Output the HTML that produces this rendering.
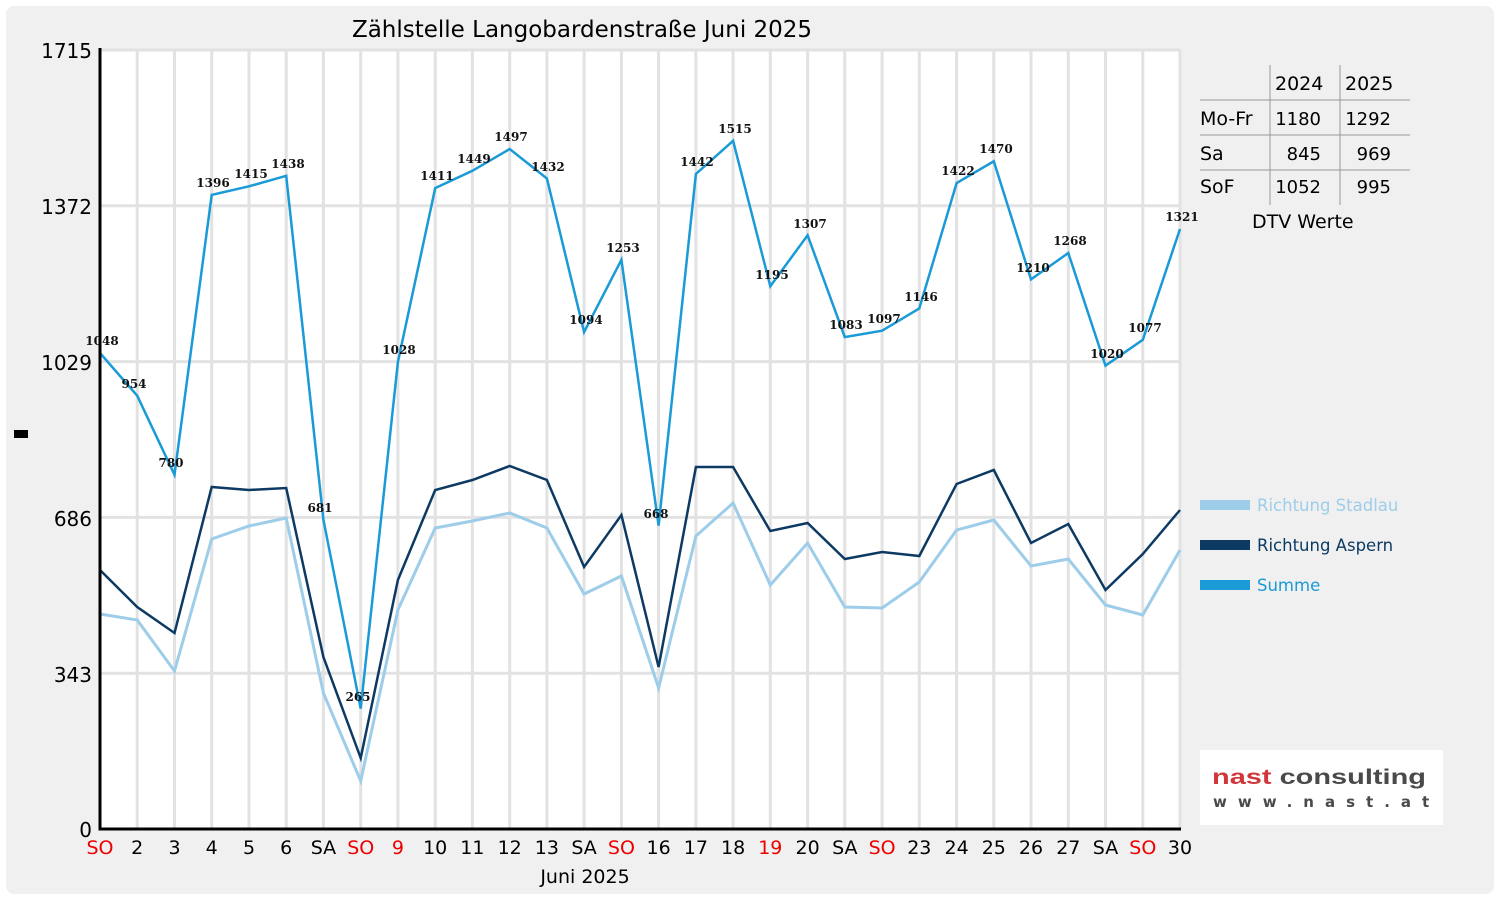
<!DOCTYPE html>
<html><head><meta charset="utf-8"><style>
body{margin:0;background:#fff;}
svg{display:block;font-family:"DejaVu Sans","Liberation Sans",sans-serif;}
</style></head><body>
<svg width="1500" height="900" viewBox="0 0 1500 900" xmlns="http://www.w3.org/2000/svg">
<rect x="6" y="6" width="1488" height="888" rx="8" fill="#f0f0f0"/>
<rect x="100" y="50" width="1080" height="779" fill="#fff"/>
<g stroke="#e2e2e2" stroke-width="3">
<line x1="100" y1="50" x2="1180" y2="50"/><line x1="100" y1="205.8" x2="1180" y2="205.8"/><line x1="100" y1="361.6" x2="1180" y2="361.6"/><line x1="100" y1="517.4" x2="1180" y2="517.4"/><line x1="100" y1="673.2" x2="1180" y2="673.2"/>
<line x1="137.2" y1="50" x2="137.2" y2="829"/><line x1="174.5" y1="50" x2="174.5" y2="829"/><line x1="211.7" y1="50" x2="211.7" y2="829"/><line x1="249" y1="50" x2="249" y2="829"/><line x1="286.2" y1="50" x2="286.2" y2="829"/><line x1="323.4" y1="50" x2="323.4" y2="829"/><line x1="360.7" y1="50" x2="360.7" y2="829"/><line x1="397.9" y1="50" x2="397.9" y2="829"/><line x1="435.2" y1="50" x2="435.2" y2="829"/><line x1="472.4" y1="50" x2="472.4" y2="829"/><line x1="509.7" y1="50" x2="509.7" y2="829"/><line x1="546.9" y1="50" x2="546.9" y2="829"/><line x1="584.1" y1="50" x2="584.1" y2="829"/><line x1="621.4" y1="50" x2="621.4" y2="829"/><line x1="658.6" y1="50" x2="658.6" y2="829"/><line x1="695.9" y1="50" x2="695.9" y2="829"/><line x1="733.1" y1="50" x2="733.1" y2="829"/><line x1="770.3" y1="50" x2="770.3" y2="829"/><line x1="807.6" y1="50" x2="807.6" y2="829"/><line x1="844.8" y1="50" x2="844.8" y2="829"/><line x1="882.1" y1="50" x2="882.1" y2="829"/><line x1="919.3" y1="50" x2="919.3" y2="829"/><line x1="956.6" y1="50" x2="956.6" y2="829"/><line x1="993.8" y1="50" x2="993.8" y2="829"/><line x1="1031" y1="50" x2="1031" y2="829"/><line x1="1068.3" y1="50" x2="1068.3" y2="829"/><line x1="1105.5" y1="50" x2="1105.5" y2="829"/><line x1="1142.8" y1="50" x2="1142.8" y2="829"/><line x1="1180" y1="50" x2="1180" y2="829"/>
</g>
<polyline fill="none" stroke="#9dcde9" stroke-width="3" points="100,614 137.2,620 174.5,671 211.7,539 249,526 286.2,518 323.4,693 360.7,781 397.9,610 435.2,528 472.4,521 509.7,513 546.9,528 584.1,594 621.4,576 658.6,688 695.9,536 733.1,503 770.3,585 807.6,543 844.8,607 882.1,608 919.3,582 956.6,530 993.8,520 1031,566 1068.3,559 1105.5,605 1142.8,615 1180,550"/>
<polyline fill="none" stroke="#0d3a63" stroke-width="2.5" points="100,570 137.2,607 174.5,633 211.7,487 249,490 286.2,488 323.4,657 360.7,758 397.9,580 435.2,490 472.4,480 509.7,466 546.9,480 584.1,567 621.4,515 658.6,667 695.9,467 733.1,467 770.3,531 807.6,523 844.8,559 882.1,552 919.3,556 956.6,484 993.8,470 1031,543 1068.3,524 1105.5,590 1142.8,554 1180,510"/>
<polyline fill="none" stroke="#1a9ad6" stroke-width="2.5" points="100,353 137.2,395.7 174.5,474.7 211.7,194.9 249,186.3 286.2,175.8 323.4,519.7 360.7,708.6 397.9,362 435.2,188.1 472.4,170.8 509.7,149 546.9,178.5 584.1,332.1 621.4,259.8 658.6,525.6 695.9,174 733.1,140.8 770.3,286.2 807.6,235.3 844.8,337.1 882.1,330.7 919.3,308.4 956.6,183.1 993.8,161.3 1031,279.4 1068.3,253 1105.5,365.7 1142.8,339.8 1180,229"/>
<g font-size="12" font-weight="bold" fill="#111" text-anchor="middle" font-family="'DejaVu Serif',serif">
<text x="102" y="345">1048</text><text x="134" y="388">954</text><text x="171" y="467">780</text><text x="213" y="187">1396</text><text x="251" y="178">1415</text><text x="288" y="168">1438</text><text x="320" y="512">681</text><text x="358" y="701">265</text><text x="399" y="354">1028</text><text x="437" y="180">1411</text><text x="474" y="163">1449</text><text x="511" y="141">1497</text><text x="548" y="171">1432</text><text x="586" y="324">1094</text><text x="623" y="252">1253</text><text x="656" y="518">668</text><text x="697" y="166">1442</text><text x="735" y="133">1515</text><text x="772" y="279">1195</text><text x="810" y="228">1307</text><text x="846" y="329">1083</text><text x="884" y="323">1097</text><text x="921" y="301">1146</text><text x="958" y="175">1422</text><text x="996" y="153">1470</text><text x="1033" y="272">1210</text><text x="1070" y="245">1268</text><text x="1107" y="358">1020</text><text x="1145" y="332">1077</text><text x="1182" y="221">1321</text>
</g>
<g stroke="#000" stroke-width="3"><line x1="100" y1="48" x2="100" y2="830"/><line x1="98.5" y1="829" x2="1181" y2="829"/></g>
<g font-size="20" text-anchor="end" fill="#000">
<text x="92" y="58">1715</text><text x="92" y="214">1372</text><text x="92" y="370">1029</text><text x="92" y="526">686</text><text x="92" y="682">343</text><text x="92" y="837">0</text>
</g>
<g font-size="19" text-anchor="middle" fill="#000">
<text x="100" y="854" fill="#e00">SO</text><text x="137.2" y="854">2</text><text x="174.5" y="854">3</text><text x="211.7" y="854">4</text><text x="249" y="854">5</text><text x="286.2" y="854">6</text><text x="323.4" y="854">SA</text><text x="360.7" y="854" fill="#e00">SO</text><text x="397.9" y="854" fill="#e00">9</text><text x="435.2" y="854">10</text><text x="472.4" y="854">11</text><text x="509.7" y="854">12</text><text x="546.9" y="854">13</text><text x="584.1" y="854">SA</text><text x="621.4" y="854" fill="#e00">SO</text><text x="658.6" y="854">16</text><text x="695.9" y="854">17</text><text x="733.1" y="854">18</text><text x="770.3" y="854" fill="#e00">19</text><text x="807.6" y="854">20</text><text x="844.8" y="854">SA</text><text x="882.1" y="854" fill="#e00">SO</text><text x="919.3" y="854">23</text><text x="956.6" y="854">24</text><text x="993.8" y="854">25</text><text x="1031" y="854">26</text><text x="1068.3" y="854">27</text><text x="1105.5" y="854">SA</text><text x="1142.8" y="854" fill="#e00">SO</text><text x="1180" y="854">30</text>
<text x="585" y="883">Juni 2025</text>
<text x="582" y="37" font-size="23">Zählstelle Langobardenstraße Juni 2025</text>
</g>
<rect x="14" y="430" width="14" height="8" fill="#000"/>
<g stroke="#999" stroke-width="1">
<line x1="1270" y1="65" x2="1270" y2="205"/><line x1="1340" y1="65" x2="1340" y2="205"/>
<line x1="1200" y1="100" x2="1410" y2="100"/><line x1="1200" y1="135" x2="1410" y2="135"/><line x1="1200" y1="170" x2="1410" y2="170"/>
</g>
<g font-size="19" fill="#000">
<text x="1275" y="90">2024</text><text x="1345" y="90">2025</text>
<text x="1200" y="125">Mo-Fr</text><text x="1200" y="160">Sa</text><text x="1200" y="193">SoF</text>
<text x="1252" y="228">DTV Werte</text>
</g>
<g font-size="18" fill="#000" text-anchor="end">
<text x="1321" y="125">1180</text><text x="1391" y="125">1292</text>
<text x="1321" y="160">845</text><text x="1391" y="160">969</text>
<text x="1321" y="193">1052</text><text x="1391" y="193">995</text>
</g>
<rect x="1200" y="500" width="50" height="10" fill="#9dcde9"/>
<rect x="1200" y="540" width="50" height="10" fill="#0d3a63"/>
<rect x="1200" y="580" width="50" height="10" fill="#1a9ad6"/>
<g font-size="16.5"><text x="1257" y="511" fill="#9dcde9">Richtung Stadlau</text><text x="1257" y="551" fill="#0d3a63">Richtung Aspern</text><text x="1257" y="591" fill="#1a9ad6">Summe</text></g>
<rect x="1200" y="750" width="243" height="75" fill="#fff"/>
<text x="1212" y="784" font-size="21" font-weight="bold" fill="#d0363a" textLength="214" lengthAdjust="spacingAndGlyphs" font-family="'Liberation Sans',sans-serif">nast <tspan fill="#4a4a4a">consulting</tspan></text>
<text x="1213" y="807" font-size="15" font-weight="bold" fill="#4a4a4a" letter-spacing="11">www.nast.at</text>
</svg>
</body></html>
